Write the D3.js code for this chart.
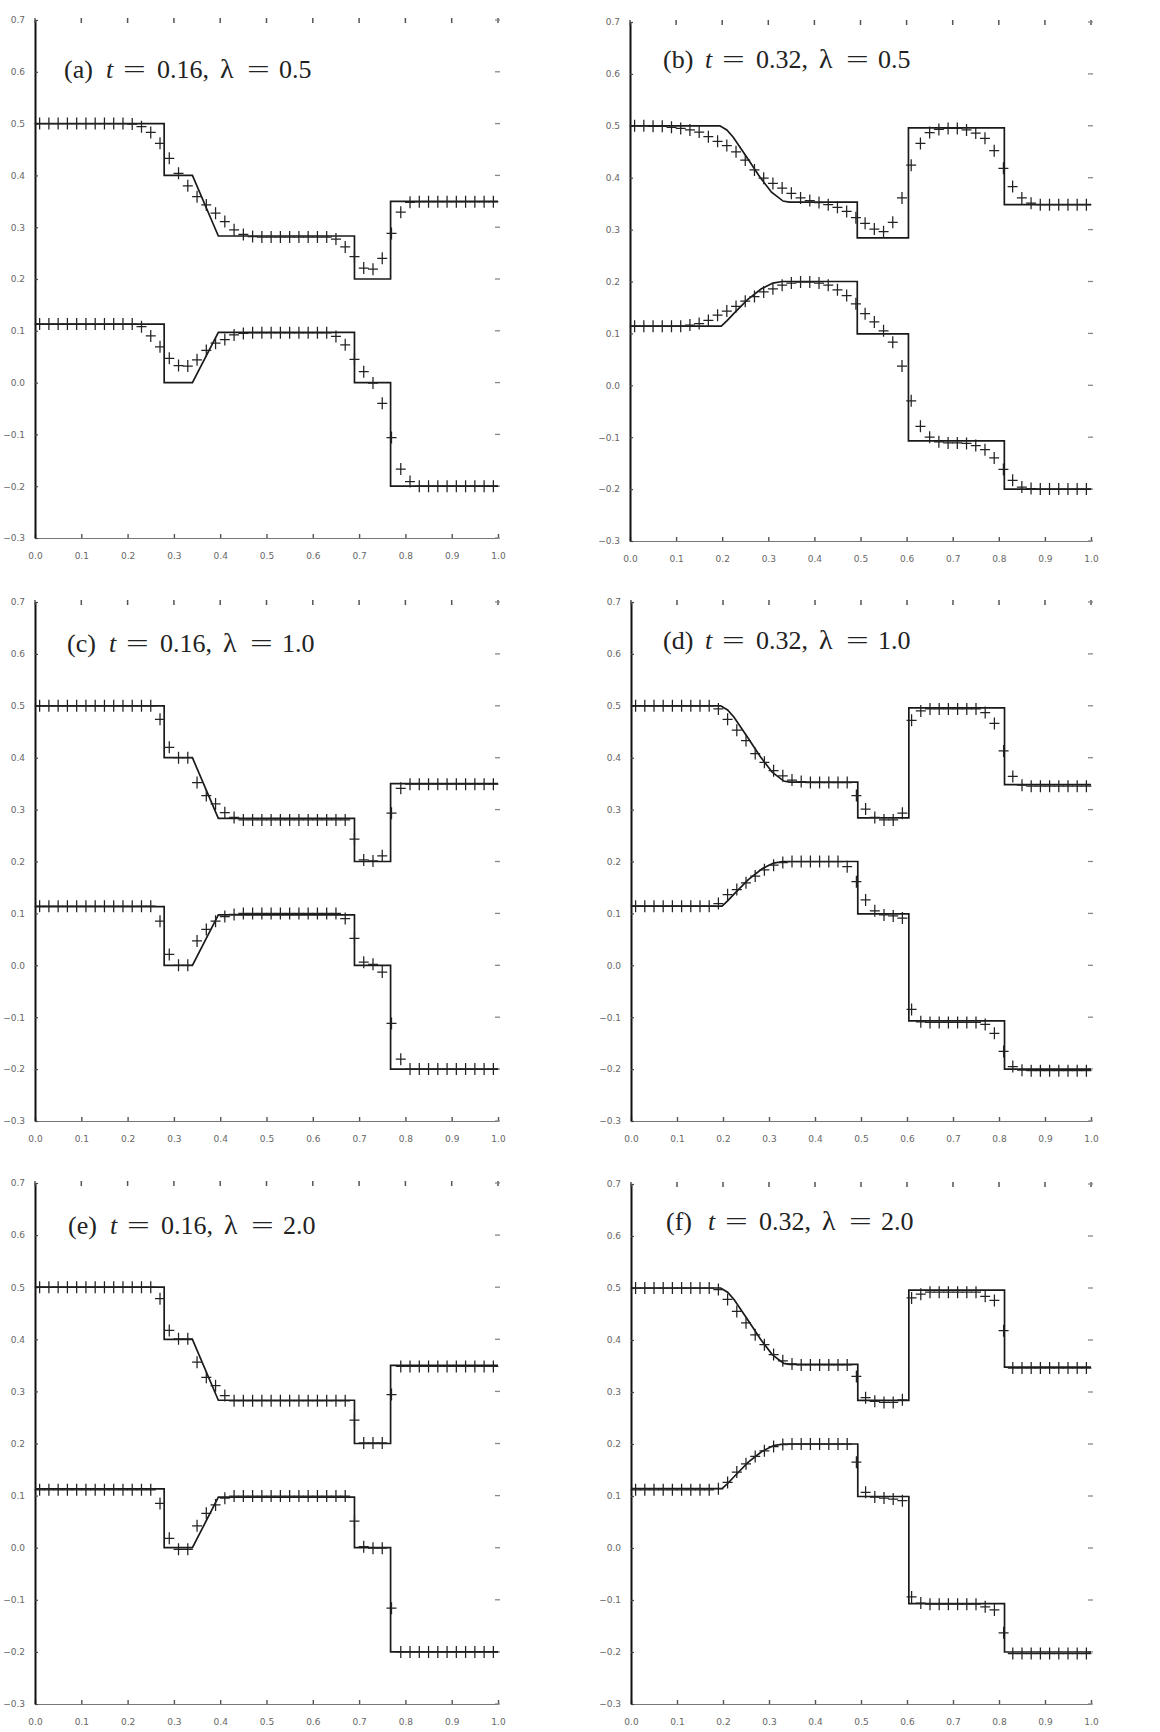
<!DOCTYPE html>
<html lang="en">
<head>
<meta charset="UTF-8">
<title>Riemann problem panels</title>
<style>
  html, body { margin: 0; padding: 0; background: #fff; }
  .tick text { font-family: "DejaVu Sans", sans-serif; font-size: 9px; fill: #666; }
  .title text { font-family: "Liberation Serif", "DejaVu Serif", serif; font-size: 26px; fill: #222; }
</style>
</head>
<body>
<div class="container"></div>
<script src="https://cdn.jsdelivr.net/npm/d3@7/dist/d3.min.js"></script>
<script>
// ---- data ----
const panelIds = ["a", "b", "c", "d", "e", "f"]
const panelT = ["0.16", "0.32", "0.16", "0.32", "0.16", "0.32"]
const panelLambda = ["0.5", "0.5", "1.0", "1.0", "2.0", "2.0"]

const xTickValues = [0.0, 0.1, 0.2, 0.3, 0.4, 0.5, 0.6, 0.7, 0.8, 0.9, 1.0]
const yTickValues = [-0.3, -0.2, -0.1, 0.0, 0.1, 0.2, 0.3, 0.4, 0.5, 0.6, 0.7]

// cell centres of the numerical grid
const cellX = [0.01, 0.03, 0.05, 0.07, 0.09, 0.11, 0.13, 0.15, 0.17, 0.19,
               0.21, 0.23, 0.25, 0.27, 0.29, 0.31, 0.33, 0.35, 0.37, 0.39,
               0.41, 0.43, 0.45, 0.47, 0.49, 0.51, 0.53, 0.55, 0.57, 0.59,
               0.61, 0.63, 0.65, 0.67, 0.69, 0.71, 0.73, 0.75, 0.77, 0.79,
               0.81, 0.83, 0.85, 0.87, 0.89, 0.91, 0.93, 0.95, 0.97, 0.99]

// exact solutions [x, value]
const exactUpperT16 = [[0, 0.5], [0.279, 0.5], [0.279, 0.4], [0.34, 0.4], [0.396, 0.283], [0.69, 0.283],
                       [0.69, 0.2], [0.768, 0.2], [0.768, 0.35], [1, 0.35]]
const exactLowerT16 = [[0, 0.113], [0.279, 0.113], [0.279, 0.0], [0.34, 0.0], [0.396, 0.097], [0.69, 0.097],
                       [0.69, 0.0], [0.768, 0.0], [0.768, -0.2], [1, -0.2]]
const exactUpperT32 = [[0, 0.5], [0.195, 0.5], [0.21, 0.492], [0.224, 0.478], [0.253, 0.44], [0.282, 0.401],
                       [0.307, 0.372], [0.332, 0.355], [0.345, 0.353], [0.493, 0.353], [0.493, 0.284],
                       [0.604, 0.284], [0.604, 0.496], [0.812, 0.496], [0.812, 0.348], [1, 0.348]]
const exactLowerT32 = [[0, 0.114], [0.198, 0.114], [0.21, 0.124], [0.225, 0.138], [0.255, 0.165], [0.285, 0.186],
                       [0.31, 0.197], [0.33, 0.2], [0.493, 0.2], [0.493, 0.099], [0.604, 0.099],
                       [0.604, -0.107], [0.812, -0.107], [0.812, -0.2], [1, -0.2]]

// numerical values at cellX
const numUpperA = [0.5, 0.5, 0.5, 0.5, 0.5, 0.5, 0.5, 0.5, 0.5, 0.5,
                   0.499, 0.494, 0.483, 0.462, 0.433, 0.404, 0.380, 0.359, 0.343, 0.327,
                   0.311, 0.295, 0.286, 0.282, 0.281, 0.281, 0.281, 0.281, 0.281, 0.281,
                   0.281, 0.281, 0.277, 0.262, 0.243, 0.221, 0.219, 0.240, 0.288, 0.329,
                   0.348, 0.349, 0.349, 0.349, 0.349, 0.349, 0.349, 0.349, 0.349, 0.349]
const numLowerA = [0.113, 0.113, 0.113, 0.113, 0.113, 0.113, 0.113, 0.113, 0.113, 0.113,
                   0.113, 0.108, 0.090, 0.069, 0.047, 0.033, 0.032, 0.044, 0.062, 0.076,
                   0.083, 0.092, 0.095, 0.096, 0.096, 0.096, 0.096, 0.096, 0.096, 0.096,
                   0.096, 0.096, 0.089, 0.073, 0.045, 0.021, -0.001, -0.040, -0.106, -0.167,
                   -0.191, -0.2, -0.2, -0.2, -0.2, -0.2, -0.2, -0.2, -0.2, -0.2]
const numUpperB = [0.5, 0.5, 0.499, 0.499, 0.497, 0.495, 0.492, 0.488, 0.479, 0.470,
                   0.462, 0.450, 0.434, 0.415, 0.399, 0.389, 0.380, 0.370, 0.361, 0.356,
                   0.352, 0.348, 0.343, 0.335, 0.323, 0.312, 0.301, 0.296, 0.314, 0.361,
                   0.424, 0.466, 0.487, 0.493, 0.495, 0.495, 0.492, 0.486, 0.476, 0.452,
                   0.418, 0.383, 0.361, 0.351, 0.348, 0.348, 0.348, 0.348, 0.348, 0.348]
const numLowerB = [0.114, 0.114, 0.114, 0.114, 0.114, 0.114, 0.116, 0.119, 0.125, 0.135,
                   0.143, 0.152, 0.162, 0.171, 0.180, 0.186, 0.193, 0.197, 0.199, 0.199,
                   0.197, 0.193, 0.184, 0.173, 0.157, 0.138, 0.122, 0.105, 0.083, 0.037,
                   -0.030, -0.079, -0.100, -0.109, -0.111, -0.111, -0.112, -0.116, -0.124, -0.140,
                   -0.162, -0.183, -0.196, -0.199, -0.2, -0.2, -0.2, -0.2, -0.2, -0.2]
const numUpperC = [0.5, 0.5, 0.5, 0.5, 0.5, 0.5, 0.5, 0.5, 0.5, 0.5,
                   0.5, 0.5, 0.5, 0.474, 0.420, 0.400, 0.400, 0.352, 0.327, 0.311,
                   0.294, 0.285, 0.280, 0.280, 0.280, 0.280, 0.280, 0.280, 0.280, 0.280,
                   0.280, 0.280, 0.280, 0.280, 0.243, 0.203, 0.201, 0.211, 0.293, 0.341,
                   0.349, 0.349, 0.349, 0.349, 0.349, 0.349, 0.349, 0.349, 0.349, 0.349]
const numLowerC = [0.114, 0.114, 0.114, 0.114, 0.114, 0.114, 0.114, 0.114, 0.114, 0.114,
                   0.114, 0.114, 0.114, 0.085, 0.021, 0.0, 0.0, 0.047, 0.069, 0.085,
                   0.094, 0.098, 0.1, 0.1, 0.1, 0.1, 0.1, 0.1, 0.1, 0.1,
                   0.1, 0.1, 0.1, 0.090, 0.052, 0.006, 0.002, -0.013, -0.112, -0.181,
                   -0.2, -0.2, -0.2, -0.2, -0.2, -0.2, -0.2, -0.2, -0.2, -0.2]
const numUpperD = [0.5, 0.5, 0.5, 0.5, 0.5, 0.5, 0.5, 0.5, 0.5, 0.494,
                   0.474, 0.453, 0.433, 0.408, 0.391, 0.375, 0.365, 0.357, 0.354, 0.352,
                   0.352, 0.352, 0.352, 0.352, 0.327, 0.301, 0.285, 0.280, 0.280, 0.293,
                   0.472, 0.490, 0.494, 0.494, 0.494, 0.494, 0.494, 0.494, 0.487, 0.466,
                   0.413, 0.364, 0.347, 0.345, 0.345, 0.345, 0.345, 0.345, 0.345, 0.345]
const numLowerD = [0.114, 0.114, 0.114, 0.114, 0.114, 0.114, 0.114, 0.114, 0.114, 0.119,
                   0.136, 0.146, 0.159, 0.172, 0.184, 0.193, 0.198, 0.200, 0.200, 0.200,
                   0.200, 0.200, 0.200, 0.190, 0.161, 0.126, 0.105, 0.097, 0.095, 0.091,
                   -0.085, -0.109, -0.110, -0.110, -0.110, -0.110, -0.110, -0.110, -0.114, -0.131,
                   -0.166, -0.195, -0.202, -0.203, -0.203, -0.203, -0.203, -0.203, -0.203, -0.203]
const numUpperE = [0.5, 0.5, 0.5, 0.5, 0.5, 0.5, 0.5, 0.5, 0.5, 0.5,
                   0.5, 0.5, 0.5, 0.478, 0.417, 0.401, 0.401, 0.356, 0.327, 0.311,
                   0.292, 0.282, 0.282, 0.282, 0.282, 0.282, 0.282, 0.282, 0.282, 0.282,
                   0.282, 0.282, 0.282, 0.282, 0.245, 0.201, 0.201, 0.201, 0.294, 0.348,
                   0.348, 0.348, 0.348, 0.348, 0.348, 0.348, 0.348, 0.348, 0.348, 0.348]
const numLowerE = [0.111, 0.111, 0.111, 0.111, 0.111, 0.111, 0.111, 0.111, 0.111, 0.111,
                   0.111, 0.111, 0.111, 0.085, 0.018, -0.003, -0.003, 0.042, 0.066, 0.082,
                   0.095, 0.099, 0.099, 0.099, 0.099, 0.099, 0.099, 0.099, 0.099, 0.099,
                   0.099, 0.099, 0.099, 0.099, 0.051, 0.002, -0.001, -0.001, -0.116, -0.2,
                   -0.2, -0.2, -0.2, -0.2, -0.2, -0.2, -0.2, -0.2, -0.2, -0.2]
const numUpperF = [0.5, 0.5, 0.5, 0.5, 0.5, 0.5, 0.5, 0.5, 0.5, 0.497,
                   0.478, 0.455, 0.433, 0.410, 0.391, 0.372, 0.360, 0.354, 0.352, 0.352,
                   0.352, 0.352, 0.352, 0.352, 0.330, 0.289, 0.282, 0.280, 0.280, 0.285,
                   0.481, 0.488, 0.492, 0.492, 0.492, 0.492, 0.492, 0.492, 0.484, 0.476,
                   0.418, 0.346, 0.346, 0.346, 0.346, 0.346, 0.346, 0.346, 0.346, 0.346]
const numLowerF = [0.112, 0.112, 0.112, 0.112, 0.112, 0.112, 0.112, 0.112, 0.112, 0.114,
                   0.126, 0.146, 0.162, 0.176, 0.187, 0.195, 0.199, 0.2, 0.2, 0.2,
                   0.2, 0.2, 0.2, 0.2, 0.165, 0.107, 0.098, 0.096, 0.094, 0.091,
                   -0.094, -0.106, -0.108, -0.108, -0.108, -0.108, -0.108, -0.108, -0.113, -0.119,
                   -0.163, -0.203, -0.203, -0.203, -0.203, -0.203, -0.203, -0.203, -0.203, -0.203]

const panelExact = [
    [exactUpperT16, exactLowerT16], [exactUpperT32, exactLowerT32],
    [exactUpperT16, exactLowerT16], [exactUpperT32, exactLowerT32],
    [exactUpperT16, exactLowerT16], [exactUpperT32, exactLowerT32]
]
const panelNumeric = [
    [numUpperA, numLowerA], [numUpperB, numLowerB], [numUpperC, numLowerC],
    [numUpperD, numLowerD], [numUpperE, numLowerE], [numUpperF, numLowerF]
]

// ---- layout (pixels) ----
const width = 1160
const height = 1732
const layout = [
    {x0: 35,  x1: 498,  y0: 20,   y1: 538,  tx: 64,  ty: 78},
    {x0: 630, x1: 1091, y0: 22,   y1: 541,  tx: 663, ty: 68},
    {x0: 35,  x1: 498,  y0: 602,  y1: 1121, tx: 67,  ty: 652},
    {x0: 631, x1: 1091, y0: 602,  y1: 1121, tx: 663, ty: 649},
    {x0: 35,  x1: 498,  y0: 1183, y1: 1704, tx: 68,  ty: 1234},
    {x0: 631, x1: 1091, y0: 1184, y1: 1704, tx: 666, ty: 1230}
]
// title token offsets from tx (TeX-like spacing around "=")
const titleDx = [0, 42, 59, 93, 156, 183, 215]

const svg = d3.select('.container').append("svg")
    .attr("width", width)
    .attr("height", height)
    .style("display", "block")

svg.append("rect").attr("width", width).attr("height", height).attr("fill", "#fff")

const plus = "M-5,0H5M0,-6V6"

panelIds.forEach((id, p) => {
    const L = layout[p]
    const xScale = d3.scaleLinear().domain([0, 1]).range([L.x0, L.x1])
    const yScale = d3.scaleLinear().domain([-0.3, 0.7]).range([L.y1, L.y0])

    const g = svg.append("g").attr("class", "panel panel-" + id)

    // bottom axis
    const bottomAxis = d3.axisBottom(xScale)
        .tickValues(xTickValues)
        .tickFormat(d3.format(".1f"))
        .tickSizeInner(-4)
        .tickSizeOuter(0)
        .tickPadding(15)
    const bAxis = g.append("g")
        .attr("transform", `translate(0,${L.y1})`)
        .call(bottomAxis)
    bAxis.select(".domain").attr("stroke", "#777").attr("stroke-width", 1.2)
    bAxis.selectAll(".tick line").attr("stroke", "#555").attr("stroke-width", 1.4)

    // left axis
    const leftAxis = d3.axisLeft(yScale)
        .tickValues(yTickValues)
        .tickFormat(d3.format(".1f"))
        .tickSizeInner(-3)
        .tickSizeOuter(0)
        .tickPadding(10)
    const lAxis = g.append("g")
        .attr("transform", `translate(${L.x0},0)`)
        .call(leftAxis)
    lAxis.select(".domain").attr("stroke", "#111").attr("stroke-width", 2)
    lAxis.selectAll(".tick line").attr("stroke", "#444").attr("stroke-width", 1.2)

    // top tick marks
    g.append("g").selectAll("line")
        .data(xTickValues)
        .join("line")
        .attr("x1", d => xScale(d)).attr("x2", d => xScale(d))
        .attr("y1", L.y0 - 2).attr("y2", L.y0 + 3)
        .attr("stroke", "#555").attr("stroke-width", 1.5)

    // right tick marks
    g.append("g").selectAll("line")
        .data(yTickValues)
        .join("line")
        .attr("x1", L.x1 - 3).attr("x2", L.x1 + 2)
        .attr("y1", d => yScale(d)).attr("y2", d => yScale(d))
        .attr("stroke", "#888").attr("stroke-width", 1.3)

    // exact solution
    const line = d3.line().x(d => xScale(d[0])).y(d => yScale(d[1]))
    g.append("g").selectAll("path")
        .data(panelExact[p])
        .join("path")
        .attr("d", line)
        .attr("fill", "none")
        .attr("stroke", "#1a1a1a")
        .attr("stroke-width", 1.7)

    // numerical solution markers
    panelNumeric[p].forEach(series => {
        g.append("g").selectAll("path")
            .data(series)
            .join("path")
            .attr("transform", (d, i) => `translate(${xScale(cellX[i])},${yScale(d)})`)
            .attr("d", plus)
            .attr("fill", "none")
            .attr("stroke", "#222")
            .attr("stroke-width", 1.25)
    })

    // title
    const tokens = [`(${id})`, "t", "=", `${panelT[p]},`, "λ", "=", panelLambda[p]]
    const tg = g.append("g").attr("class", "title")
        .attr("transform", `translate(${L.tx},${L.ty})`)
    tokens.forEach((tok, k) => {
        const t = tg.append("text")
            .attr("x", titleDx[k])
            .text(tok)
        if (tok === "t") t.style("font-style", "italic")
        if (tok === "λ") t.style("font-size", "28px")
        if (tok === "=") t.attr("transform", `translate(${titleDx[k]},0) scale(1.55,1) translate(${-titleDx[k]},0)`)
    })
})
</script>
</body>
</html>
